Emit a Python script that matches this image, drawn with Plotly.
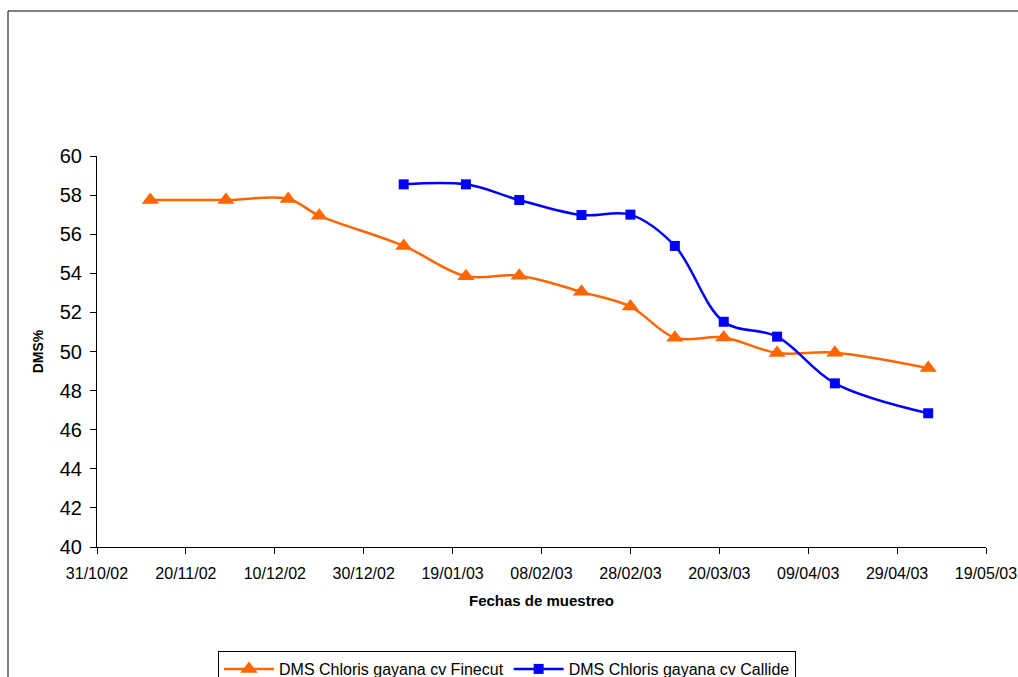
import plotly.graph_objects as go

# Sampling dates and dry matter (DMS %) for each cultivar
fechas_finecut = [
    "2002-11-12", "2002-11-29", "2002-12-13", "2002-12-20", "2003-01-08",
    "2003-01-22", "2003-02-03", "2003-02-17", "2003-02-28", "2003-03-10",
    "2003-03-21", "2003-04-02", "2003-04-15", "2003-05-06",
]
dms_finecut = [57.75, 57.75, 57.8, 56.95, 55.4, 53.85, 53.88, 53.05, 52.3, 50.7,
               50.72, 49.92, 49.94, 49.15]

fechas_callide = [
    "2003-01-08", "2003-01-22", "2003-02-03", "2003-02-17", "2003-02-28",
    "2003-03-10", "2003-03-21", "2003-04-02", "2003-04-15", "2003-05-06",
]
dms_callide = [58.55, 58.55, 57.75, 56.98, 57.0, 55.4, 51.52, 50.76, 48.37, 46.84]

# Axis ticks
x_tickvals = ["2002-10-31", "2002-11-20", "2002-12-10", "2002-12-30", "2003-01-19",
              "2003-02-08", "2003-02-28", "2003-03-20", "2003-04-09", "2003-04-29",
              "2003-05-19"]
x_ticktext = ["31/10/02", "20/11/02", "10/12/02", "30/12/02", "19/01/03",
              "08/02/03", "28/02/03", "20/03/03", "09/04/03", "29/04/03",
              "19/05/03"]
y_tickvals = [40, 42, 44, 46, 48, 50, 52, 54, 56, 58, 60]

FONT = "Arial, Liberation Sans, sans-serif"

fig = go.Figure()
fig.add_trace(go.Scatter(
    x=fechas_finecut, y=dms_finecut, mode="lines+markers",
    name="DMS Chloris gayana cv Finecut",
    line=dict(color="#FF6600", width=2.5, shape="spline", smoothing=1.0),
    marker=dict(symbol="triangle-up", size=15, color="#FF6600"),
))
fig.add_trace(go.Scatter(
    x=fechas_callide, y=dms_callide, mode="lines+markers",
    name="DMS Chloris gayana cv Callide",
    line=dict(color="#0000FF", width=2.5, shape="spline", smoothing=1.0),
    marker=dict(symbol="square", size=10, color="#0000FF"),
))

L, R, T, B = 97, 32, 156, 130
W, H = 1018, 677
pw, ph = W - L - R, H - T - B

fig.update_layout(
    width=W, height=H,
    margin=dict(l=L, r=R, t=T, b=B, pad=0, autoexpand=False),
    paper_bgcolor="white", plot_bgcolor="white",
    font=dict(family=FONT, color="black"),
    showlegend=True,
    legend=dict(
        orientation="h", x=(218 - L) / pw, xanchor="left",
        y=-(651 - (T + ph)) / ph, yanchor="top",
        bordercolor="black", borderwidth=1,
        font=dict(size=16, family=FONT),
        itemwidth=50, tracegroupgap=0,
    ),
    shapes=[dict(
        type="rect", xref="paper", yref="paper",
        x0=(8 - L) / pw, x1=1.2, y0=-0.6, y1=(T + ph - 11) / ph,
        line=dict(color="black", width=1), fillcolor="rgba(0,0,0,0)",
        layer="below",
    )],
)

fig.update_xaxes(
    type="date", range=["2002-10-31", "2003-05-19"],
    tickmode="array", tickvals=x_tickvals, ticktext=x_ticktext,
    showline=True, linecolor="black", linewidth=1,
    ticks="outside", ticklen=6, tickcolor="black", tickwidth=1,
    showgrid=False, zeroline=False,
    tickfont=dict(size=16, family=FONT), ticklabelstandoff=6,
    title=dict(text="<b>Fechas de muestreo</b>", font=dict(size=15, family=FONT), standoff=14),
)
fig.update_yaxes(
    range=[40, 60], tickmode="array", tickvals=y_tickvals,
    showline=True, linecolor="black", linewidth=1,
    ticks="outside", ticklen=6, tickcolor="black", tickwidth=1,
    showgrid=False, zeroline=False,
    tickfont=dict(size=20, family=FONT), ticklabelstandoff=4,
    title=dict(text="<b>DMS%</b>", font=dict(size=14, family=FONT), standoff=12),
)

fig.write_html("out.html")
